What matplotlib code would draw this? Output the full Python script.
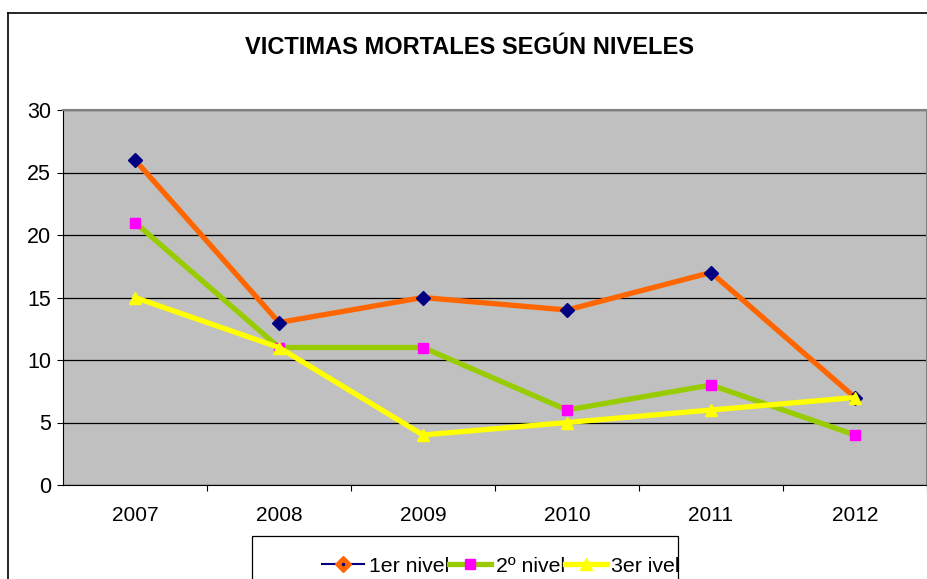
import matplotlib.pyplot as plt
from matplotlib.lines import Line2D
from matplotlib.legend_handler import HandlerTuple

plt.rcParams['font.family'] = ['Liberation Sans', 'DejaVu Sans']

# ── Data ────────────────────────────────────────────────────────────
years = ['2007', '2008', '2009', '2010', '2011', '2012']
nivel_1 = [26, 13, 15, 14, 17, 7]
nivel_2 = [21, 11, 11, 6, 8, 4]
nivel_3 = [15, 11, 4, 5, 6, 7]
labels = ['1er nivel', '2º nivel', '3er ivel']

W, H = 928, 579
fig = plt.figure(figsize=(W / 100, H / 100), dpi=100)

# outer chart border (only left and top visible in the crop)
fig.add_artist(Line2D([8 / W, 8 / W], [0, 1 - 13 / H], color='black', lw=1.2,
                      transform=fig.transFigure))
fig.add_artist(Line2D([8 / W, 1], [1 - 13 / H, 1 - 13 / H], color='black', lw=1.2,
                      transform=fig.transFigure))

ax = fig.add_axes([63 / W, 94 / H, 864 / W, 375 / H])
ax.set_facecolor('#C0C0C0')

x = list(range(len(years)))
ax.plot(x, nivel_1, color='#FF6600', lw=3.8, marker='D', ms=7,
        mfc='#000080', mec='#000080', zorder=3)
ax.plot(x, nivel_2, color='#99CC00', lw=3.8, marker='s', ms=6.5,
        mfc='#FF00FF', mec='#FF00FF', zorder=4)
ax.plot(x, nivel_3, color='#FFFF00', lw=3.8, marker='^', ms=8,
        mfc='#FFFF00', mec='#FFFF00', zorder=5)

ax.set_xlim(-0.5, len(years) - 0.5)
ax.set_ylim(0, 30)
ax.set_yticks(range(0, 31, 5))
ax.yaxis.grid(True, color='black', lw=0.9)
ax.set_axisbelow(True)

ax.set_xticks(x)
ax.set_xticklabels(years)
ax.set_xticks([i + 0.5 for i in x], minor=True)
ax.tick_params(axis='x', which='major', length=0, pad=15, labelsize=15)
ax.tick_params(axis='x', which='minor', length=4.5, width=0.8, direction='out')
ax.tick_params(axis='y', length=4.5, width=0.8, pad=4, labelsize=15.5)

ax.spines['top'].set_color('#808080')
ax.spines['right'].set_color('#808080')
ax.spines['top'].set_linewidth(1.5)
ax.spines['right'].set_linewidth(1.5)
ax.spines['left'].set_linewidth(0.8)
ax.spines['bottom'].set_linewidth(0.8)

fig.text(470 / W, 1 - 47 / H, 'VICTIMAS MORTALES SEGÚN NIVELES',
         ha='center', va='center', fontsize=17, fontweight='bold')

# legend box (Excel style, cut at the bottom)
fig.add_artist(plt.Rectangle((252 / W, -0.02), (678 - 252) / W, 0.02 + (579 - 536) / H,
                             transform=fig.transFigure, facecolor='white',
                             edgecolor='black', lw=0.9))

h1 = (Line2D([], [], color='#000080', lw=1.5, marker='D', ms=8,
             mfc='#FF6600', mec='#FF6600'),
      Line2D([], [], ls='none', marker='o', ms=1.5, mfc='#000080', mec='#000080'))
h2 = Line2D([], [], color='#99CC00', lw=3.8, marker='s', ms=7,
            mfc='#FF00FF', mec='#FF00FF')
h3 = Line2D([], [], color='#FFFF00', lw=3.8, marker='^', ms=8,
            mfc='#FFFF00', mec='#FFFF00')
fig.legend([h1, h2, h3], labels,
           handler_map={tuple: HandlerTuple(ndivide=1, pad=0)},
           loc='center right', bbox_to_anchor=(680 / W, 1 - 566 / H),
           ncol=3, frameon=False, fontsize=15.3, handlelength=2.0,
           handletextpad=0.2, columnspacing=0.0, borderpad=0, borderaxespad=0)

fig.savefig('out.png', dpi=100)
